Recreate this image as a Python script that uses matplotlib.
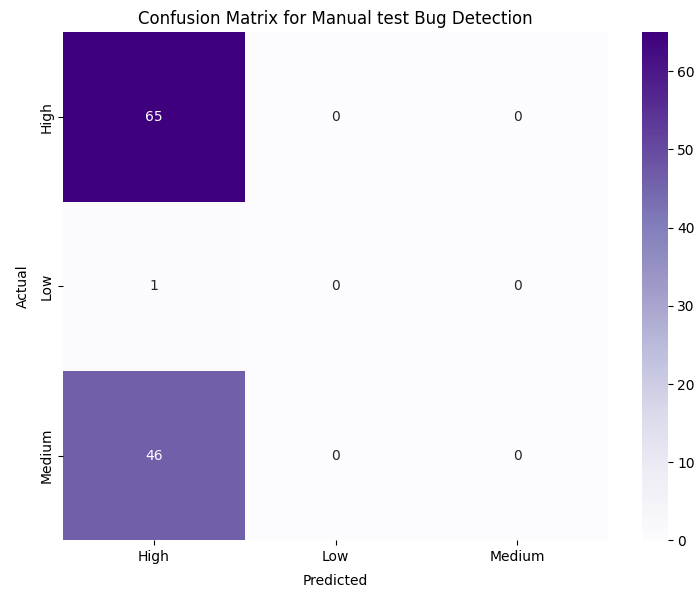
import numpy as np
import matplotlib
matplotlib.use("Agg")
import matplotlib.pyplot as plt
import seaborn as sns

# confusion matrix values (rows = actual, cols = predicted)
labels = ["High", "Low", "Medium"]
cm = np.array([
    [65, 0, 0],
    [1, 0, 0],
    [46, 0, 0],
])

fig = plt.figure(figsize=(7, 5.94), dpi=100)
ax = fig.add_axes([0.0904, 0.0901, 0.778, 0.856])
cax = fig.add_axes([0.9167, 0.0901, 0.0371, 0.856])

sns.heatmap(cm, annot=True, fmt="d", cmap="Purples",
            xticklabels=labels, yticklabels=labels,
            ax=ax, cbar_ax=cax)

ax.set_title("Confusion Matrix for Manual test Bug Detection", fontsize=12)
ax.set_xlabel("Predicted", labelpad=7)
ax.set_ylabel("Actual", labelpad=7)

fig.savefig("out.png", dpi=100)
